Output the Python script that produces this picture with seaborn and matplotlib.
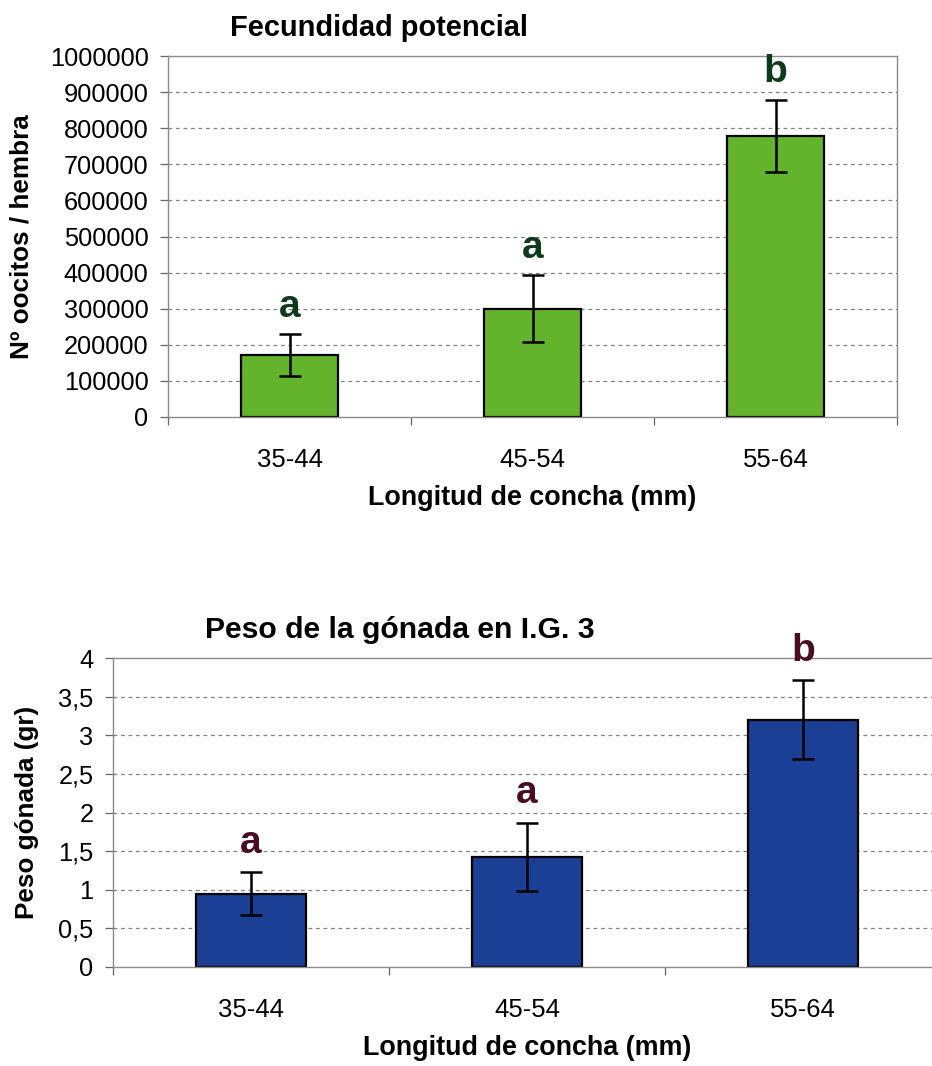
import matplotlib
matplotlib.use("Agg")
import matplotlib.pyplot as plt
import seaborn as sns
import numpy as np

# Size classes (shell length, mm)
categories = ["35-44", "45-54", "55-64"]

# Potential fecundity: mean oocytes per female and error
fecundity_mean = [171000, 300000, 779000]
fecundity_err = [58000, 92000, 100000]
fecundity_letters = ["a", "a", "b"]

# Gonad weight at gonadal index 3 (g)
gonad_mean = [0.95, 1.43, 3.20]
gonad_err = [0.28, 0.44, 0.51]
gonad_letters = ["a", "a", "b"]

sns.set_theme(style="white")
plt.rcParams["font.family"] = ["Liberation Sans", "DejaVu Sans"]
plt.rcParams["text.color"] = "black"
plt.rcParams["axes.labelcolor"] = "black"
plt.rcParams["xtick.color"] = "black"
plt.rcParams["ytick.color"] = "black"

W, H = 932, 1066
fig = plt.figure(figsize=(W / 100, H / 100), dpi=100)


def px_axes(left, top, right, bottom):
    return fig.add_axes([left / W, 1 - bottom / H, (right - left) / W, (bottom - top) / H])


def draw_panel(ax, means, errs, letters, bar_color, letter_color, ymax, ystep,
               ytick_fmt, title, title_size, ylabel, ylabel_pad, title_x, letter_offset):
    sns.barplot(x=categories, y=means, ax=ax, color=bar_color, width=0.4,
                edgecolor="black", linewidth=1.6, saturation=1)
    xs = np.arange(len(categories))
    ax.errorbar(xs, means, yerr=errs, fmt="none", ecolor="black",
                elinewidth=1.8, capsize=8, capthick=1.8, zorder=5)
    for x, m, e, t in zip(xs, means, errs, letters):
        ax.annotate(t, (x, m + e), xytext=(0, letter_offset), textcoords="offset points",
                    ha="center", va="bottom", fontsize=28, fontweight="bold",
                    color=letter_color, annotation_clip=False)

    ax.set_xlim(-0.5, len(categories) - 0.5)
    ax.set_ylim(0, ymax)
    yt = np.arange(0, ymax + ystep / 2, ystep)
    ax.set_yticks(yt)
    ax.set_yticklabels([ytick_fmt(v) for v in yt])
    for v in yt[1:-1]:
        ax.axhline(v, color="#808080", lw=0.9, ls=(0, (3, 3)), zorder=0)

    # category separators as tick marks along the x axis
    ax.set_xticks(xs)
    ax.set_xticklabels(categories)
    ax.set_xticks(np.arange(-0.5, len(categories)), minor=True)
    ax.tick_params(axis="x", which="major", length=0, pad=22, labelsize=18.5)
    ax.tick_params(axis="x", which="minor", length=6, width=0.9, color="#666666",
                   direction="out", bottom=True)
    ax.tick_params(axis="y", which="major", length=6, width=0.9, color="#666666",
                   direction="out", left=True, pad=8, labelsize=18.3)

    for s in ax.spines.values():
        s.set_color("#8a8a8a")
        s.set_linewidth(1.0)
        s.set_visible(True)

    ax.set_xlabel("Longitud de concha (mm)", fontsize=19.4, fontweight="bold", labelpad=10)
    ax.set_ylabel(ylabel, fontsize=18.8, fontweight="bold", labelpad=ylabel_pad)
    fig.text(title_x / W, ax.get_position().y1 + 14 / H, title, fontsize=title_size,
             fontweight="bold", ha="left", va="bottom")


ax1 = px_axes(168, 56, 897, 417)
draw_panel(ax1, fecundity_mean, fecundity_err, fecundity_letters,
           "#63b42c", "#0e3a1c", 1000000, 100000, lambda v: f"{int(v)}",
           "Fecundidad potencial", 20.9, "Nº oocitos / hembra", 12, 230, 7)

ax2 = px_axes(113, 658, 941, 967)
draw_panel(ax2, gonad_mean, gonad_err, gonad_letters,
           "#1c3f96", "#4a0c22", 4, 0.5,
           lambda v: (f"{v:g}").replace(".", ","),
           "Peso de la gónada en I.G. 3", 21.7, "Peso gónada (gr)", 14, 205, 8)

fig.savefig("out.png", dpi=100)
